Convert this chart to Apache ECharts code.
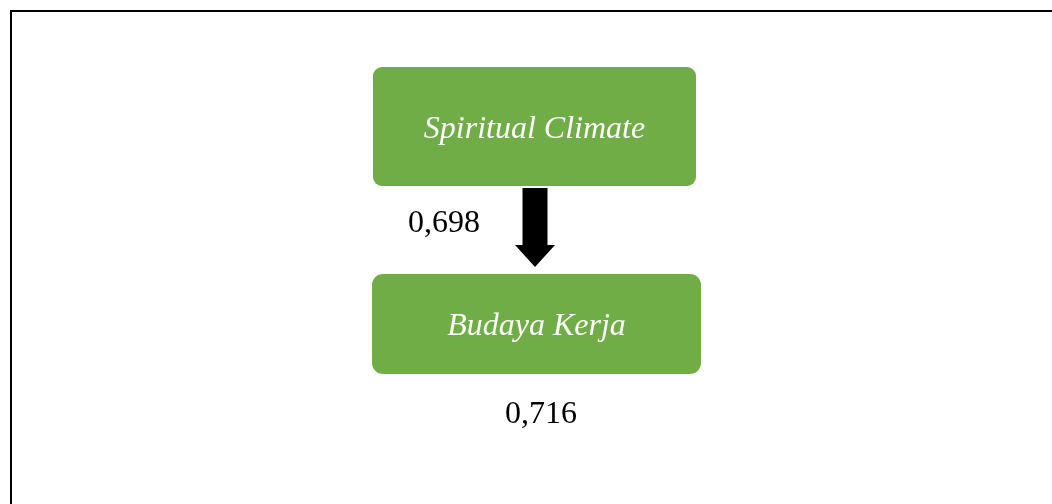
<!DOCTYPE html>
<html>
<head>
<meta charset="utf-8">
<script src="https://cdn.jsdelivr.net/npm/echarts@6/dist/echarts.min.js"></script>
<style>
html, body { margin: 0; background: #fff; }
#chart { width: 1052px; height: 504px; }
</style>
</head>
<body>
<div id="chart"></div>
<script>
// diagram content
const nodeNames = ['Spiritual Climate', 'Budaya Kerja'];
const pathCoefficients = [0.698];
const rSquareValues = [0.716];

const W = 1052, H = 504;
// layout (page pixels, mapped through hidden axes)
const boxLayout = [
    { x: 373, y: 67, w: 323, h: 119, r: 9 },
    { x: 372, y: 274, w: 329, h: 100, r: 11 }
];
const arrowLayout = { cx: 535, top: 188, neck: 245, tip: 267, shaft: 25, head: 40 };
const coefLabelPos = [408, 224];
const r2LabelPos = [541, 415];

const GREEN = '#70ad47';
const SERIF = '"Liberation Serif", "DejaVu Serif", serif';
const fmt = v => v.toFixed(3).replace('.', ',');

const myChart = echarts.init(document.getElementById('chart'));

const option = {
    animation: false,
    grid: { left: 0, right: 0, top: 0, bottom: 0 },
    xAxis: { type: 'value', min: 0, max: W, show: false },
    yAxis: { type: 'value', min: 0, max: H, inverse: true, show: false },
    graphic: [
        {
            type: 'polyline',
            shape: { points: [[11, H], [11, 11], [W, 11]] },
            style: { stroke: '#000', lineWidth: 2, fill: null }
        }
    ],
    series: [
        {
            // boxes
            type: 'custom',
            data: nodeNames.map((n, i) => [i]),
            renderItem: function (params, api) {
                const b = boxLayout[params.dataIndex];
                const p0 = api.coord([b.x, b.y]);
                const p1 = api.coord([b.x + b.w, b.y + b.h]);
                return {
                    type: 'group',
                    children: [
                        {
                            type: 'rect',
                            shape: { x: p0[0], y: p0[1], width: p1[0] - p0[0], height: p1[1] - p0[1], r: b.r },
                            style: { fill: GREEN }
                        },
                        {
                            type: 'text',
                            style: {
                                x: (p0[0] + p1[0]) / 2,
                                y: (p0[1] + p1[1]) / 2 + 3,
                                text: nodeNames[params.dataIndex],
                                fill: '#fff',
                                fontFamily: SERIF,
                                fontStyle: 'italic',
                                fontSize: 32,
                                align: 'center',
                                verticalAlign: 'middle'
                            }
                        }
                    ]
                };
            }
        },
        {
            // arrow with path coefficient
            type: 'custom',
            data: pathCoefficients.map(v => [v]),
            renderItem: function (params, api) {
                const a = arrowLayout;
                const pts = [
                    [a.cx - a.shaft / 2, a.top], [a.cx + a.shaft / 2, a.top],
                    [a.cx + a.shaft / 2, a.neck], [a.cx + a.head / 2, a.neck],
                    [a.cx, a.tip],
                    [a.cx - a.head / 2, a.neck], [a.cx - a.shaft / 2, a.neck]
                ].map(p => api.coord(p));
                const lp = api.coord(coefLabelPos);
                return {
                    type: 'group',
                    children: [
                        { type: 'polygon', shape: { points: pts }, style: { fill: '#000' } },
                        {
                            type: 'text',
                            style: {
                                x: lp[0], y: lp[1],
                                text: fmt(api.value(0)),
                                fill: '#000',
                                fontFamily: SERIF,
                                fontSize: 32,
                                align: 'left',
                                verticalAlign: 'middle'
                            }
                        }
                    ]
                };
            }
        },
        {
            // R square below the dependent box
            type: 'custom',
            data: rSquareValues.map(v => [v]),
            renderItem: function (params, api) {
                const lp = api.coord(r2LabelPos);
                return {
                    type: 'text',
                    style: {
                        x: lp[0], y: lp[1],
                        text: fmt(api.value(0)),
                        fill: '#000',
                        fontFamily: SERIF,
                        fontSize: 32,
                        align: 'center',
                        verticalAlign: 'middle'
                    }
                };
            }
        }
    ]
};

myChart.setOption(option);
window.addEventListener('resize', () => myChart.resize());
</script>
</body>
</html>
